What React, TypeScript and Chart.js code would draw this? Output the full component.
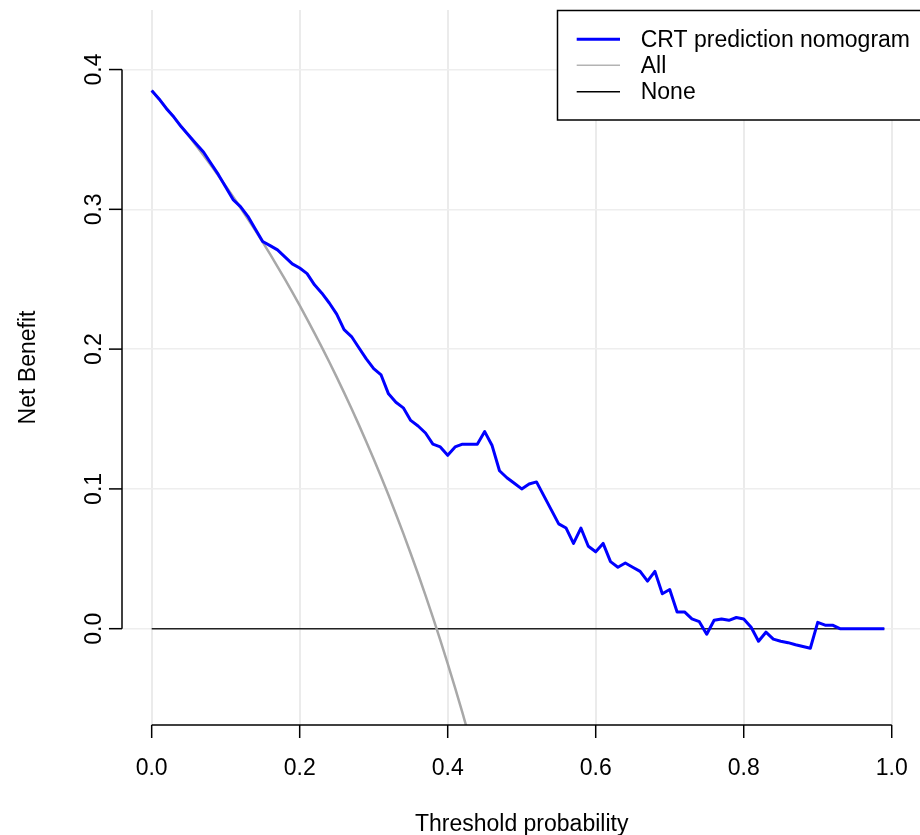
import React, { useEffect, useRef } from "react";
import { Chart, registerables } from "chart.js";

Chart.register(...registerables);

// Threshold probabilities (x) for the model and "None" lines
const thresholds: number[] = [
  0.0, 0.01, 0.02, 0.03, 0.04, 0.05, 0.06, 0.07, 0.08, 0.09,
  0.1, 0.11, 0.12, 0.13, 0.14, 0.15, 0.16, 0.17, 0.18, 0.19,
  0.2, 0.21, 0.22, 0.23, 0.24, 0.25, 0.26, 0.27, 0.28, 0.29,
  0.3, 0.31, 0.32, 0.33, 0.34, 0.35, 0.36, 0.37, 0.38, 0.39,
  0.4, 0.41, 0.42, 0.43, 0.44, 0.45, 0.46, 0.47, 0.48, 0.49,
  0.5, 0.51, 0.52, 0.53, 0.54, 0.55, 0.56, 0.57, 0.58, 0.59,
  0.6, 0.61, 0.62, 0.63, 0.64, 0.65, 0.66, 0.67, 0.68, 0.69,
  0.7, 0.71, 0.72, 0.73, 0.74, 0.75, 0.76, 0.77, 0.78, 0.79,
  0.8, 0.81, 0.82, 0.83, 0.84, 0.85, 0.86, 0.87, 0.88, 0.89,
  0.9, 0.91, 0.92, 0.93, 0.94, 0.95, 0.96, 0.97, 0.98, 0.99,
];

// Net benefit of the CRT prediction nomogram
const nbNomogram: number[] = [
  0.385, 0.379, 0.372, 0.366, 0.359, 0.353, 0.347, 0.341, 0.333, 0.325,
  0.316, 0.307, 0.302, 0.295, 0.286, 0.277, 0.274, 0.271, 0.266, 0.261,
  0.258, 0.254, 0.246, 0.24, 0.233, 0.225, 0.214, 0.209, 0.201, 0.193,
  0.186, 0.1815, 0.168, 0.162, 0.158, 0.149, 0.145, 0.14, 0.132, 0.13,
  0.124, 0.13, 0.132, 0.132, 0.132, 0.141, 0.131, 0.113, 0.108, 0.104,
  0.1, 0.1035, 0.105, 0.095, 0.085, 0.075, 0.072, 0.061, 0.072, 0.059,
  0.055, 0.061, 0.048, 0.044, 0.047, 0.044, 0.041, 0.034, 0.041, 0.025,
  0.028, 0.012, 0.012, 0.007, 0.005, -0.004, 0.006, 0.007, 0.006, 0.008,
  0.007, 0.001, -0.009, -0.0025, -0.0075, -0.009, -0.01, -0.0115, -0.0128, -0.014,
  0.0045, 0.0025, 0.0025, 0.0, 0.0, 0.0, 0.0, 0.0, 0.0, 0.0,
];

// Treat-all curve
const thresholdsAll: number[] = [
  0.0, 0.01, 0.02, 0.03, 0.04, 0.05, 0.06, 0.07, 0.08, 0.09,
  0.1, 0.11, 0.12, 0.13, 0.14, 0.15, 0.16, 0.17, 0.18, 0.19,
  0.2, 0.21, 0.22, 0.23, 0.24, 0.25, 0.26, 0.27, 0.28, 0.29,
  0.3, 0.31, 0.32, 0.33, 0.34, 0.35, 0.36, 0.37, 0.38, 0.39,
  0.4, 0.41, 0.42, 0.43,
];
const nbAll: number[] = [
  0.385, 0.3788, 0.3724, 0.366, 0.3594, 0.3526, 0.3457, 0.3387, 0.3315, 0.3242,
  0.3167, 0.309, 0.3011, 0.2931, 0.2849, 0.2765, 0.2679, 0.259, 0.25, 0.2407,
  0.2313, 0.2215, 0.2115, 0.2013, 0.1908, 0.18, 0.1689, 0.1575, 0.1458, 0.1338,
  0.1214, 0.1087, 0.0956, 0.0821, 0.0682, 0.0538, 0.0391, 0.0238, 0.0081, -0.0082,
  -0.025, -0.0424, -0.0603, -0.079,
];

// Treat-none line
const thresholdsNone: number[] = [0.0, 0.99];
const nbNone: number[] = [0.0, 0.0];

const xTicks: number[] = [0.0, 0.2, 0.4, 0.6, 0.8, 1.0];
const yTicks: number[] = [0.0, 0.1, 0.2, 0.3, 0.4];

const legendLabels: string[] = ["CRT prediction nomogram", "All", "None"];
const xTitle = "Threshold probability";
const yTitle = "Net Benefit";

const FONT = '"Liberation Sans", Arial, Helvetica, sans-serif';
const FS = 23;

const rAxesPlugin = {
  id: "rAxes",
  afterDraw(chart: any) {
    const ctx = chart.ctx as CanvasRenderingContext2D;
    const xs = chart.scales.x;
    const ys = chart.scales.y;
    const area = chart.chartArea;
    ctx.save();
    ctx.strokeStyle = "#000";
    ctx.fillStyle = "#000";
    ctx.lineWidth = 1.5;
    ctx.font = `${FS}px ${FONT}`;

    // x axis
    const yb = area.bottom;
    ctx.beginPath();
    ctx.moveTo(xs.getPixelForValue(xTicks[0]), yb);
    ctx.lineTo(xs.getPixelForValue(xTicks[xTicks.length - 1]), yb);
    ctx.stroke();
    ctx.textAlign = "center";
    ctx.textBaseline = "alphabetic";
    for (const t of xTicks) {
      const px = xs.getPixelForValue(t);
      ctx.beginPath();
      ctx.moveTo(px, yb);
      ctx.lineTo(px, yb + 13);
      ctx.stroke();
      ctx.fillText(t.toFixed(1), px, yb + 50);
    }

    // y axis
    const xl = area.left;
    ctx.beginPath();
    ctx.moveTo(xl, ys.getPixelForValue(yTicks[0]));
    ctx.lineTo(xl, ys.getPixelForValue(yTicks[yTicks.length - 1]));
    ctx.stroke();
    for (const t of yTicks) {
      const py = ys.getPixelForValue(t);
      ctx.beginPath();
      ctx.moveTo(xl, py);
      ctx.lineTo(xl - 13, py);
      ctx.stroke();
      ctx.save();
      ctx.translate(xl - 21, py);
      ctx.rotate(-Math.PI / 2);
      ctx.textAlign = "center";
      ctx.textBaseline = "alphabetic";
      ctx.fillText(t.toFixed(1), 0, 0);
      ctx.restore();
    }

    // titles
    ctx.textAlign = "center";
    ctx.textBaseline = "alphabetic";
    ctx.fillText(xTitle, (area.left + xs.getPixelForValue(1.04)) / 2, 831);
    ctx.save();
    ctx.translate(35, (area.top + area.bottom) / 2);
    ctx.rotate(-Math.PI / 2);
    ctx.fillText(yTitle, 0, 0);
    ctx.restore();

    // legend
    const lx = 557.5;
    const ly = 10.5;
    ctx.lineWidth = 1.5;
    ctx.strokeStyle = "#000";
    ctx.fillStyle = "#fff";
    ctx.fillRect(lx, ly, 400, 109.5);
    ctx.strokeRect(lx, ly, 400, 109.5);
    const rows = [39.3, 65.3, 91.7];
    const cols = ["#0000ff", "#b3b3b3", "#000000"];
    const widths = [3, 1.5, 1.5];
    ctx.font = `${FS}px ${FONT}`;
    ctx.textAlign = "left";
    ctx.textBaseline = "middle";
    for (let i = 0; i < legendLabels.length; i++) {
      ctx.strokeStyle = cols[i];
      ctx.lineWidth = widths[i];
      ctx.beginPath();
      ctx.moveTo(576.7, rows[i]);
      ctx.lineTo(620, rows[i]);
      ctx.stroke();
      ctx.fillStyle = "#000";
      ctx.fillText(legendLabels[i], 640.7, rows[i] + 1);
    }
    ctx.restore();
  },
};

export default function App() {
  const ref = useRef<HTMLCanvasElement | null>(null);
  useEffect(() => {
    document.body.style.margin = "0";
    const canvas = ref.current;
    if (!canvas) return;
    const chart = new Chart(canvas, {
      type: "line",
      data: {
        datasets: [
          {
            label: legendLabels[0],
            data: thresholds.map((x, i) => ({ x, y: nbNomogram[i] })),
            borderColor: "#0000ff",
            borderWidth: 3,
            pointRadius: 0,
            tension: 0,
            order: 0,
            borderJoinStyle: "round",
          },
          {
            label: legendLabels[1],
            data: thresholdsAll.map((x, i) => ({ x, y: nbAll[i] })),
            borderColor: "#a8a8a8",
            borderWidth: 2.5,
            pointRadius: 0,
            tension: 0,
            order: 1,
            clip: 0,
          },
          {
            label: legendLabels[2],
            data: thresholdsNone.map((x, i) => ({ x, y: nbNone[i] })),
            borderColor: "#222222",
            borderWidth: 1.5,
            pointRadius: 0,
            tension: 0,
            order: 2,
          },
        ],
      },
      options: {
        responsive: false,
        animation: false,
        layout: { padding: { left: 122, right: 0, top: 10, bottom: 110 } },
        plugins: { legend: { display: false }, tooltip: { enabled: false } },
        scales: {
          x: {
            type: "linear",
            min: -0.0401,
            max: 1.0382,
            border: { display: false },
            grid: { color: "#ebebeb", lineWidth: 2, drawTicks: false },
            ticks: { display: false },
            afterBuildTicks: (s: any) => {
              s.ticks = xTicks.map((v) => ({ value: v }));
            },
            afterFit: (s: any) => {
              s.height = 0;
            },
          },
          y: {
            type: "linear",
            min: -0.0689,
            max: 0.4426,
            border: { display: false },
            grid: { color: "#eeeeee", lineWidth: 1.5, drawTicks: false },
            ticks: { display: false },
            afterBuildTicks: (s: any) => {
              s.ticks = yTicks.map((v) => ({ value: v }));
            },
            afterFit: (s: any) => {
              s.width = 0;
            },
          },
        },
      } as any,
      plugins: [rAxesPlugin],
    });
    return () => chart.destroy();
  }, []);
  return <canvas ref={ref} width={920} height={835} style={{ display: "block" }} />;
}
